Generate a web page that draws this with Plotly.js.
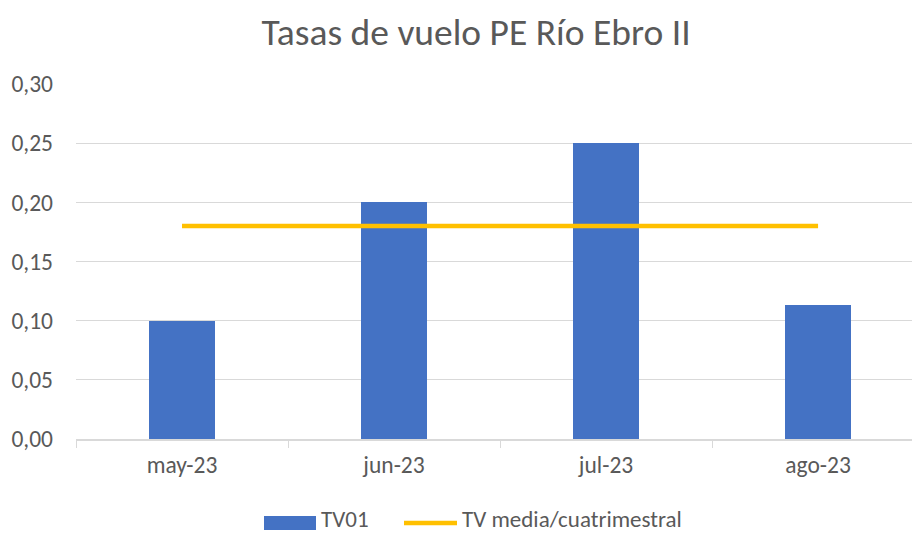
<!DOCTYPE html>
<html><head><meta charset="utf-8">
<script src="https://cdn.plot.ly/plotly-3.0.1.min.js"></script>
<style>body{margin:0;background:#fff}#c{width:912px;height:533px}</style>
</head><body><div id="c"></div>
<script>
const categories = ["may-23","jun-23","jul-23","ago-23"];
const tv01 = [0.10, 0.20, 0.25, 0.113];
const tvMedia = [0.18, 0.18, 0.18, 0.18];
const yTicks = [0, 0.05, 0.10, 0.15, 0.20, 0.25, 0.30];
const seriesNames = ["TV01", "TV media/cuatrimestral"];

const fontFam = "Carlito, Calibri, 'Open Sans', sans-serif";
const txt = "#595959";
const data = [
  {type:"bar", name:seriesNames[0], x:categories, y:tv01, width:0.31,
   marker:{color:"#4472C4"}, showlegend:false},
  {type:"scatter", mode:"lines", name:seriesNames[1], x:categories, y:tvMedia,
   line:{color:"#FFC000", width:4.5}, showlegend:false}
];
// custom legend (pixel -> paper conversion)
const L=76, T=84, W=836, H=355;
const px = x => (x-L)/W, py = y => (T+H-y)/H;
const shapes = [
  {type:"rect", xref:"paper", yref:"paper", x0:px(264), x1:px(316), y0:py(530), y1:py(516),
   fillcolor:"#4472C4", line:{width:0}},
  {type:"line", xref:"paper", yref:"paper", x0:px(404), x1:px(457), y0:py(523), y1:py(523),
   line:{color:"#FFC000", width:4.5}}
];
const annotations = [
  {xref:"paper", yref:"paper", x:px(320), y:py(519), text:seriesNames[0], showarrow:false,
   xanchor:"left", yanchor:"middle", borderpad:0, font:{size:23, color:txt, family:fontFam}},
  {xref:"paper", yref:"paper", x:px(461), y:py(519), text:seriesNames[1], showarrow:false,
   xanchor:"left", yanchor:"middle", borderpad:0, font:{size:23, color:txt, family:fontFam}}
];
const layout = {
  width:912, height:533,
  paper_bgcolor:"#fff", plot_bgcolor:"#fff",
  separators:",.",
  font:{family:fontFam, color:txt, size:23.5},
  title:{text:"Tasas de vuelo PE Río Ebro II", font:{size:37.5, color:txt, family:fontFam}, x:0.522, xanchor:"center", y:0.94, yanchor:"middle"},
  margin:{l:76, r:0, t:84, b:94},
  xaxis:{type:"category", range:[-0.5, 3.443], showgrid:false, zeroline:false,
    showline:true, linecolor:"#d9d9d9", linewidth:1.5,
    ticks:"outside", tickson:"boundaries", ticklen:7, tickcolor:"#d9d9d9",
    tickfont:{size:23.5, color:txt}, ticklabelstandoff:4},
  yaxis:{range:[0,0.30], tickvals:yTicks, tickformat:".2f", showgrid:true, gridcolor:"#d9d9d9", gridwidth:1.3,
    zeroline:false, showline:false, ticks:"", tickfont:{size:23.5, color:txt}, ticklabelstandoff:22},
  showlegend:false,
  shapes:shapes, annotations:annotations,
  bargap:0
};
Plotly.newPlot("c", data, layout, {displayModeBar:false, staticPlot:true});
</script></body></html>
